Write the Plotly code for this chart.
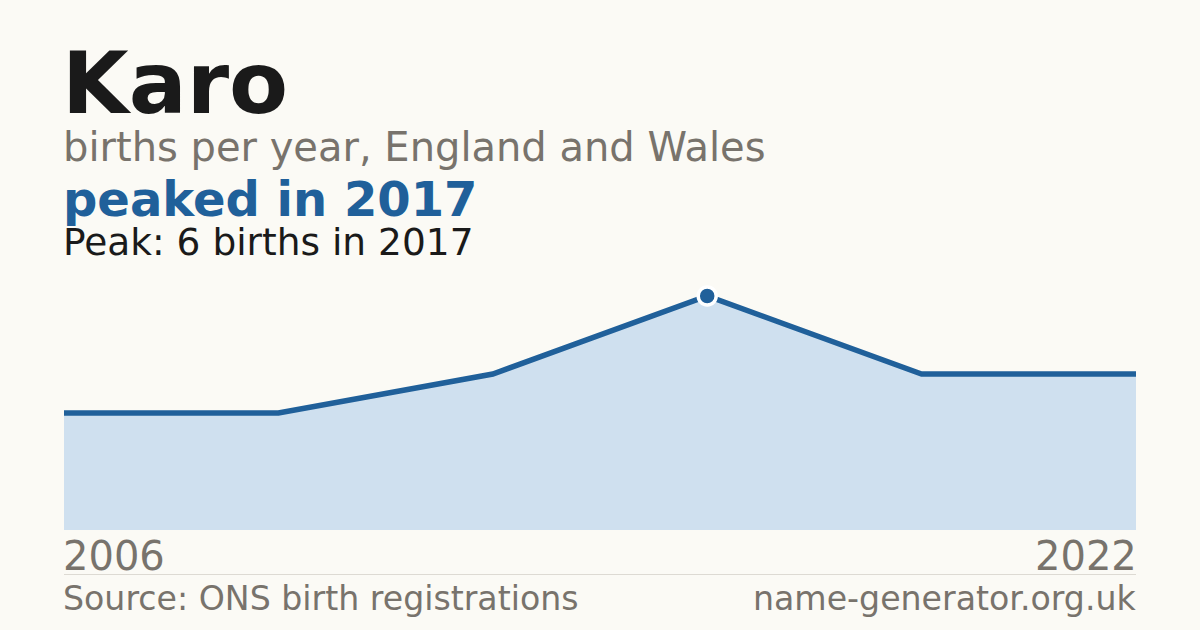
#!/usr/bin/python3
# -*- coding: utf-8 -*-
"""births per year for one name, drawn as a filled line with the peak marked"""
import plotly.graph_objects as go

W, H = 1200, 630

# data (points are evenly spaced, first and last labelled)
first_year = "2006"
last_year = "2022"
peak_year = "2017"
births = [3, 3, 4, 6, 4, 4]
peak_index = 3

BG = "#fbfaf5"
BLUE = "#20609a"
FILL = "#cfe0ef"
DARK = "#1a1a1a"
GREY = "#78736c"


def px(x):
    return x / W


def py(y):
    # pixel row from top -> paper fraction from bottom
    return 1 - y / H


idx = list(range(len(births)))

fig = go.Figure()
fig.add_trace(go.Scatter(
    x=idx, y=births,
    mode="lines",
    line=dict(color=BLUE, width=5.5),
    fill="tozeroy",
    fillcolor=FILL,
    hoverinfo="skip",
))
fig.add_trace(go.Scatter(
    x=[idx[peak_index]], y=[births[peak_index]],
    mode="markers",
    marker=dict(color=BLUE, size=18, line=dict(color="white", width=3.5)),
    hoverinfo="skip",
))

font = "DejaVu Sans"
notes = [
    # text, x px, y centre px, size, colour, bold, anchor
    ("Karo", 60, 83, 86, DARK, True, "left"),
    ("births per year, England and Wales", 61, 147, 40, GREY, False, "left"),
    ("peaked in " + peak_year, 61, 198.5, 48, BLUE, True, "left"),
    ("Peak: %d births in %s" % (max(births), peak_year), 61, 242, 37.5, DARK, False, "left"),
    (first_year, 61, 556, 40, GREY, False, "left"),
    (last_year, 1139, 556, 40, GREY, False, "right"),
    ("Source: ONS birth registrations", 61, 598, 33.2, GREY, False, "left"),
    ("name-generator.org.uk", 1138, 598, 33.2, GREY, False, "right"),
]
annotations = []
for text, x, y, size, col, bold, anchor in notes:
    annotations.append(dict(
        text="<b>" + text + "</b>" if bold else text,
        x=px(x), y=py(y), xref="paper", yref="paper",
        xanchor=anchor, yanchor="middle", showarrow=False,
        font=dict(family=font, size=size, color=col),
    ))

fig.update_layout(
    width=W, height=H,
    margin=dict(l=0, r=0, t=0, b=0),
    paper_bgcolor=BG, plot_bgcolor=BG,
    showlegend=False,
    annotations=annotations,
    shapes=[dict(type="line", xref="paper", yref="paper",
                 x0=px(64), x1=px(1136), y0=py(574.5), y1=py(574.5),
                 line=dict(color="#dddad3", width=1))],
    xaxis=dict(domain=[px(64), px(1136)], range=[0, len(births) - 1],
               visible=False, fixedrange=True),
    yaxis=dict(domain=[py(530), py(272.6)], range=[0, 6.6],
               visible=False, fixedrange=True),
)

# drop the page's default 8px body margin so the figure fills the window
fig.write_html("out.html", config={"displayModeBar": False},
               post_script="document.body.style.margin='0';"
                           "document.body.style.background='%s';" % BG)
